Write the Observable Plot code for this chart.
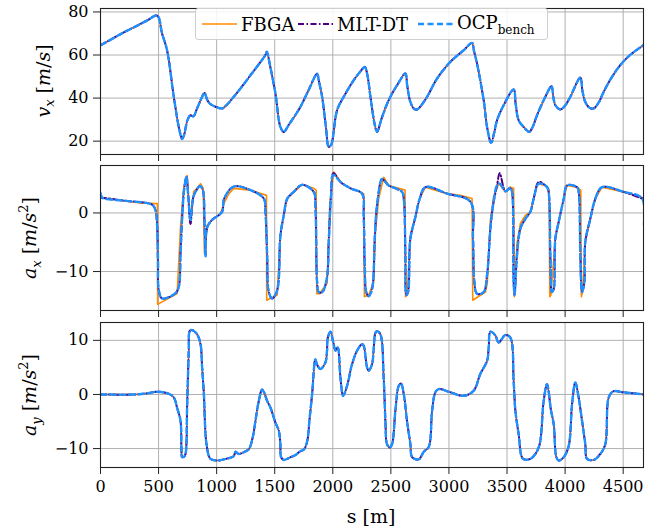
<!DOCTYPE html>
<html>
<head>
<meta charset="utf-8">
<script src="https://cdn.jsdelivr.net/npm/d3@7"></script>
<script src="https://cdn.jsdelivr.net/npm/@observablehq/plot@0.6"></script>
<style>
  html, body { margin: 0; padding: 0; background: #fff; }
  #chart { position: relative; width: 661px; height: 529px; font-family: "DejaVu Serif", serif; color: #000; }
  #chart svg { position: absolute; left: 0; overflow: visible; }
  .ylab { position: absolute; white-space: nowrap; font-size: 19px; transform: translate(-50%, -50%) rotate(-90deg); line-height: 1; }
  .ylab sub, .ylab sup { font-size: 13px; }
  .xlab { position: absolute; white-space: nowrap; font-size: 19px; transform: translate(-50%, -50%); }
  #legend { position: absolute; left: 195px; top: 8px; width: 353px; height: 32px; background: rgba(255,255,255,0.85); border: 1px solid #d0d0d0; border-radius: 3px; box-sizing: border-box; }
  #legend .item { position: absolute; top: 0; height: 30px; display: flex; align-items: center; font-size: 18px; }
  #legend svg { position: static; }
  #legend sub { font-size: 12px; }
</style>
</head>
<body>
<div id="chart"></div>
<script>
// ---------- data ----------
const seriesNames = ["FBGA", "MLT-DT", "OCP_bench"];
const xTicks = [0, 500, 1000, 1500, 2000, 2500, 3000, 3500, 4000, 4500];
const vxTicks = [20, 40, 60, 80];
const axTicks = [-10, 0];
const ayTicks = [-10, 0, 10];

// v_x [m/s] — the three solutions overlap in the picture
const vxS = [0,100,200,300,400,488,530,574,631,680,703,720,750,775,800,830,870,895,920,947,990,1047,1090,1147,1220,1291,1360,1420,1432,1460,1506,1549,1578,1620,1670,1721,1790,1865,1880,1908,1940,1965,1985,2037,2094,2180,2240,2275,2300,2324,2360,2381,2420,2481,2554,2625,2640,2668,2700,2726,2760,2812,2898,3012,3127,3199,3215,3242,3299,3328,3363,3390,3414,3471,3557,3575,3600,3643,3692,3720,3758,3830,3882,3900,3916,3959,4000,4045,4131,4150,4174,4210,4246,4290,4332,4400,4475,4560,4662,4676];
const vxV = [64.5,67.5,70.5,73.2,76,78.3,70,62,40.6,25,21,23,30,32,31.5,35,40,42.4,39,37.2,36,35.2,37,40.6,45.5,50.6,55.5,60,61.5,55,42.1,26.6,24.3,27.5,31.5,35.9,43.5,51.3,48,40.6,27,17.4,18.2,34.4,40.6,48.3,52.5,54.5,50,40.6,28,24.3,30.5,39,46,51.4,46,38.2,35,34.7,36.5,40.6,49.1,56.8,62.2,65.6,62,56,39,26.6,19.2,24,29.7,36.7,44,37,29.7,26.6,24.3,26.5,32,40.6,45.5,40,36.7,34.7,36.5,40.6,49.5,43,38.2,35.5,35.2,38,42.9,49.5,55.3,60,64.1,64.6];

// a_x [m/s^2]
const axS_FBGA = [0,200,344,490,492,660,689,717,746,775,803,832,861,884,895,918,961,1033,1060,1105,1147,1291,1429,1431,1521,1549,1578,1607,1664,1736,1836,1857,1862,1885,1951,1974,2008,2080,2152,2266,2272,2309,2352,2367,2395,2438,2481,2622,2626,2640,2668,2711,2748,2797,2984,3098,3199,3205,3314,3330,3357,3385,3428,3457,3486,3529,3557,3563,3586,3615,3658,3701,3729,3764,3830,3862,3868,3878,3916,3945,3988,4017,4103,4135,4140,4150,4174,4217,4260,4318,4504,4676];
const axFBGA = [2.56,2.1,1.7,1.6,-15.6,-13.75,-2.4,4.4,6.4,-1.8,3.7,4.2,5.0,4.2,-6.9,-2.1,-1.2,-0.1,1.5,3.3,4.2,3.9,3.0,-14.9,-14.0,-3.8,-0.4,2.45,3.6,4.8,4.2,3.9,-13.8,-13.8,-12,1.6,7.0,5.0,4.2,3.3,-14.3,-14.0,-11.8,-3.2,2.45,6.1,4.7,3.9,-14.3,-14,-3.8,-0.7,2.45,4.4,3.3,3.0,2.45,-14.9,-13.5,-12,-1.2,2.8,5.0,4.4,3.6,4.4,4.2,-14.3,-5.2,-1.8,-0.4,0.2,2.45,5.0,4.7,4.0,-14.3,-14,-4.4,-1.5,2.45,4.7,4.4,3.9,-14.3,-13.5,-4.9,-1.0,2.45,4.4,3.6,2.56];

const axS_DT = [0,15,200,445,473,488,495,502,531,646,674,689,703,720,740,755,775,800,830,855,880,895,904,918,960,1047,1064,1147,1291,1406,1420,1435,1449,1478,1521,1549,1578,1607,1664,1736,1836,1850,1865,1879,1910,1950,1965,1985,2005,2066,2152,2252,2266,2275,2289,2309,2338,2361,2381,2424,2452,2481,2596,2611,2625,2634,2648,2668,2711,2748,2797,2984,3185,3207,3219,3242,3299,3328,3357,3380,3414,3437,3486,3529,3543,3557,3565,3586,3615,3658,3701,3729,3773,3830,3851,3873,3887,3902,3916,3945,3988,4017,4103,4117,4131,4146,4166,4174,4217,4260,4318,4504,4662,4676];
const axMLT = [2.6,2.6,2.1,1.4,0.5,-2.4,-8.1,-13.2,-14.6,-13.7,-12.6,-6.9,-0.8,4,6.2,3,-1.9,2.8,4,4.6,4,-1,-7.2,-2.5,-1.2,0.2,2.4,4.5,3.9,2.45,0.2,-7.2,-13.5,-14.6,-13.2,-3.8,-0.4,2.4,3.6,4.8,3.6,1.3,-11.8,-13.5,-13.5,-11,-5,3,6.8,5.3,4.2,3.3,-0.4,-9,-13.6,-14.2,-13,-4.4,1.3,5.8,5.3,4.7,3.6,2.4,-7.2,-14.0,-13.5,-4.4,-0.7,2.4,4.4,3.3,1.9,-4.4,-11.8,-13.8,-13.5,-10.6,-2.7,1.3,4.7,6.8,3.7,4.3,3.6,-11.8,-14.0,-7.2,-2.7,-1.0,0.2,2.4,5.3,4.7,4.2,-7.2,-13.5,-13,-4.4,-1.5,2.4,4.7,4.4,3.6,-7.2,-13.5,-11.8,-4.9,-1.0,2.4,4.4,3.6,2.5,2.5];
const axOCP = [3.4,2.6,2.1,1.4,0.5,-2.4,-8.1,-13.2,-14.6,-13.7,-12.6,-6.9,-0.8,4,6.2,3,-1.2,2.8,4,4.6,4,-1,-7.5,-2.5,-1.2,0.2,2.4,4.5,3.9,2.45,0.2,-7.2,-13.5,-14.6,-13.2,-3.8,-0.4,2.4,3.6,4.8,3.6,1.3,-11.8,-13.5,-13.5,-11,-5,3,6.5,5.3,4.2,3.3,-0.4,-9,-13.6,-14.2,-13,-4.4,1.3,5.8,5.3,4.7,3.6,2.4,-7.2,-14.0,-13.5,-4.4,-0.7,2.4,4.4,3.3,1.9,-4.4,-11.8,-13.8,-13.5,-10.6,-2.7,1.3,4.7,5.0,3.7,4.3,3.6,-11.8,-14.0,-7.2,-2.7,-1.0,0.2,2.4,5.0,4.7,4.2,-7.2,-13.5,-13,-4.4,-1.5,2.4,4.7,4.4,3.6,-7.2,-13.5,-11.8,-4.9,-1.0,2.4,4.4,3.6,2.5,-2.5];

// a_y [m/s^2] — the three solutions overlap in the picture
const ayS = [0,300,400,488,580,631,660,689,697,703,720,732,746,760,769,789,832,861,875,890,913,947,1004,1080,1147,1162,1190,1240,1277,1310,1334,1360,1391,1410,1435,1463,1506,1535,1548,1555,1578,1635,1678,1720,1750,1779,1800,1822,1850,1865,1894,1936,1950,1957,1980,2000,2008,2023,2042,2066,2089,2123,2166,2209,2252,2266,2295,2309,2338,2352,2367,2381,2410,2438,2453,2467,2490,2510,2539,2568,2588,2611,2639,2668,2683,2740,2783,2826,2855,2883,2912,3012,3127,3213,3270,3328,3342,3357,3400,3428,3486,3529,3557,3572,3600,3638,3701,3744,3781,3815,3844,3879,3902,3925,3945,3988,4031,4060,4088,4117,4146,4174,4189,4246,4303,4346,4375,4413,4504,4676];
const ayV = [0,0,0.2,0.5,0.2,-0.55,-2.5,-4.9,-10,-11.6,-11.5,-11,-2,8,11.75,11.9,11.1,9.3,5,0.07,-9.2,-11.9,-12.2,-11.9,-11.4,-10.6,-11,-10.6,-10.1,-8,-4.9,-1.5,0.9,0.3,-1.2,-2.4,-5.2,-6.7,-9,-11.6,-12.1,-11.6,-11.2,-10.5,-10.2,-8.7,-4.5,0.07,6.5,5.5,4.7,5.9,8,10.5,11.6,10,9.3,8.1,8.7,3.1,-0.25,1.6,5.6,8.1,9.3,9,5.0,4.4,5.6,8.4,11.4,11.7,11.1,3.1,-4.9,-9.2,-9.8,-9.2,-3.0,1.6,2.0,0.07,-4.9,-9.2,-11.6,-12.0,-10.6,-9.7,-3.0,0.4,1.0,0.4,-0.25,0.7,3.8,6.2,8.6,11.6,10.9,9.6,11.0,10.5,2.5,-3.0,-7.3,-11.9,-11.9,-11,-9.2,-1.3,1.9,-3.0,-5.5,-11.6,-12.2,-11.6,-9.5,-1.8,2.2,-0.6,-4.9,-9.2,-11.9,-12.1,-11.0,-9.2,-0.6,0.55,0.4,0];

// ---------- styling ----------
const colors = {"FBGA": "#ff8c00", "MLT-DT": "#4b0082", "OCP_bench": "#1e90ff"};
const styles = {
  "FBGA": {stroke: colors["FBGA"], strokeWidth: 1.6},
  "MLT-DT": {stroke: colors["MLT-DT"], strokeWidth: 2, strokeDasharray: "6,2.5,1.5,2.5"},
  "OCP_bench": {stroke: colors["OCP_bench"], strokeWidth: 2.4, strokeDasharray: "6,3.5"}
};
const toRows = (s, v) => s.map((x, i) => ({s: x, v: v[i]}));

const W = 661, ML = 100, MR = 18, XMAX = 4675;
const FONT = "'DejaVu Serif', serif";

function panel({top, height, mt, mb, domain, ticks, series, labels}) {
  const grid = {stroke: "#b0b0b0", strokeOpacity: 1, strokeWidth: 1};
  const marks = [
    Plot.gridX(xTicks, grid),
    Plot.gridY(ticks, grid),
    ...series.map(([name, rows, curve]) => Plot.line(rows, {x: "s", y: "v", clip: true, curve, strokeLinejoin: "round", ...styles[name]})),
    Plot.frame({stroke: "#222", strokeWidth: 1.1}),
    Plot.axisY(ticks, {tickSize: 7, tickPadding: 5, fontSize: 16, stroke: "#222", label: null}),
    Plot.axisX(xTicks, {tickSize: 7, tickPadding: 6, fontSize: 16, stroke: "#222", label: null, tickFormat: labels ? (d => String(d)) : (() => "")})
  ];
  const svg = Plot.plot({
    width: W, height, marginLeft: ML, marginRight: MR, marginTop: mt, marginBottom: mb,
    style: {fontFamily: FONT, fontSize: "16px", background: "transparent", color: "#000"},
    x: {domain: [0, XMAX]},
    y: {domain},
    marks
  });
  svg.style.top = top + "px";
  return svg;
}

const chart = document.getElementById("chart");
const vxRows = toRows(vxS, vxV);
const ayRows = toRows(ayS, ayV);
const CR = "catmull-rom";

chart.appendChild(panel({
  top: 0, height: 160, mt: 8, mb: 6, domain: [13.8, 81.6], ticks: vxTicks,
  series: [["FBGA", vxRows, CR], ["MLT-DT", vxRows, CR], ["OCP_bench", vxRows, CR]], labels: false
}));
chart.appendChild(panel({
  top: 160, height: 155, mt: 5, mb: 5, domain: [-16.65, 8.1], ticks: axTicks,
  series: [["FBGA", toRows(axS_FBGA, axFBGA), "linear"], ["MLT-DT", toRows(axS_DT, axMLT), CR], ["OCP_bench", toRows(axS_DT, axOCP), CR]], labels: false
}));
chart.appendChild(panel({
  top: 315, height: 214, mt: 7, mb: 62, domain: [-13.5, 13.3], ticks: ayTicks,
  series: [["FBGA", ayRows, CR], ["MLT-DT", ayRows, CR], ["OCP_bench", ayRows, CR]], labels: true
}));

// axis labels
function addDiv(cls, html, x, y) {
  const d = document.createElement("div");
  d.className = cls; d.innerHTML = html;
  d.style.left = x + "px"; d.style.top = y + "px";
  chart.appendChild(d);
}
addDiv("ylab", "<i>v</i><sub><i>x</i></sub> [<i>m</i>/<i>s</i>]", 45, 81);
addDiv("ylab", "<i>a</i><sub><i>x</i></sub> [<i>m</i>/<i>s</i><sup>2</sup>]", 30, 238);
addDiv("ylab", "<i>a</i><sub><i>y</i></sub> [<i>m</i>/<i>s</i><sup>2</sup>]", 30, 395);
addDiv("xlab", "s [m]", 371, 516);

// legend
const legend = document.createElement("div");
legend.id = "legend";
const legendItems = [
  {name: "FBGA", html: "FBGA", x: 6},
  {name: "MLT-DT", html: "MLT-DT", x: 102},
  {name: "OCP_bench", html: "OCP<sub>bench</sub>", x: 222}
];
for (const it of legendItems) {
  const d = document.createElement("div");
  d.className = "item";
  d.style.left = it.x + "px";
  const st = styles[it.name];
  d.innerHTML = `<svg width="35" height="10" style="margin-right:4px"><line x1="0" x2="35" y1="5" y2="5" stroke="${st.stroke}" stroke-width="${st.strokeWidth}" stroke-dasharray="${st.strokeDasharray || ""}"/></svg><span>${it.html}</span>`;
  legend.appendChild(d);
}
chart.appendChild(legend);
</script>
</body>
</html>
